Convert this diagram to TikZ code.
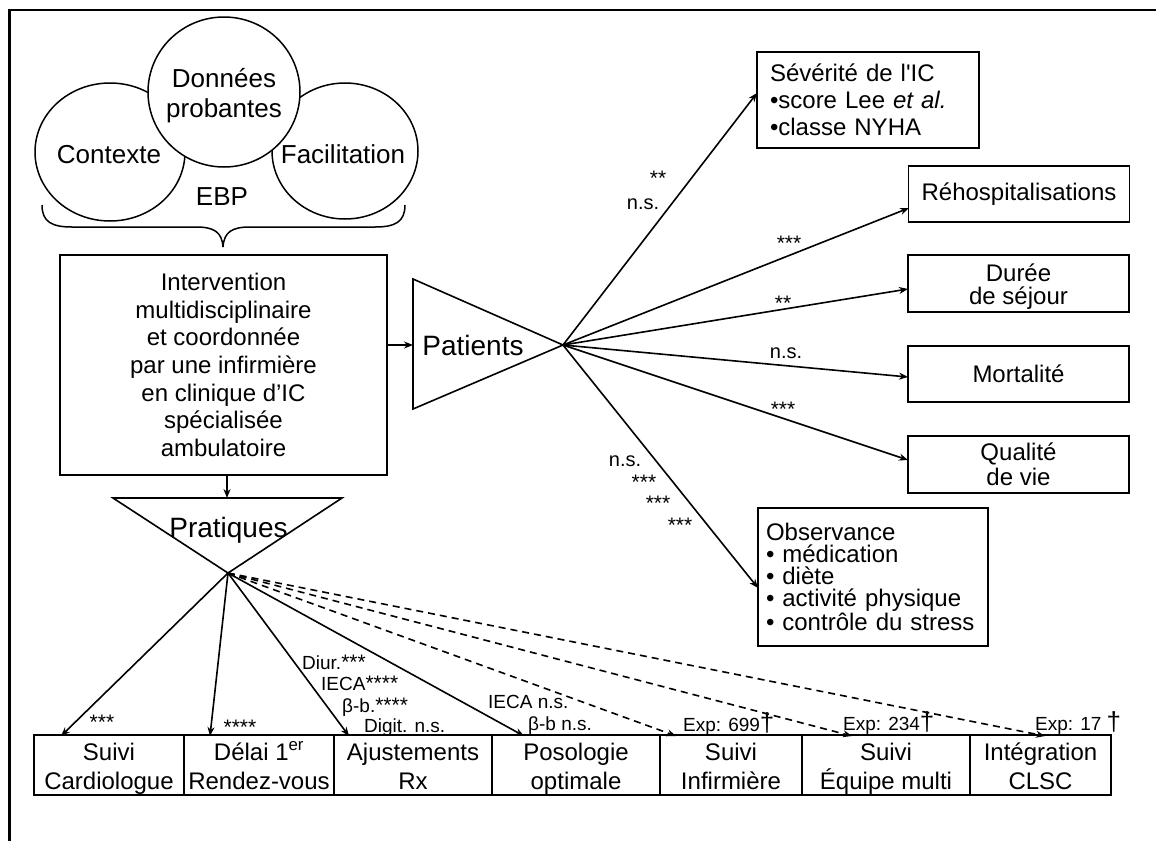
\documentclass[tikz,border=0pt]{standalone}
\usepackage{fontspec}
\setmainfont{Liberation Sans}
\usetikzlibrary{arrows.meta,shapes.geometric}
% significance stars and the dagger mark
\newcommand\signif[1]{{\fontsize{21}{21}\selectfont #1}}
\newcommand\dg{{\fontsize{26}{26}\selectfont †}}
% two lines with fixed first-line height and last-line depth
\newcommand\twolines[4]{\rule{0pt}{#3}#1\\#2\rule[-#4]{0pt}{#4}}
\begin{document}
\begin{tikzpicture}[x=1pt,y=-1pt,
  box/.style={draw,line width=1.8pt,inner sep=0pt,align=center,font=\fontsize{24}{27}\selectfont},
  bot/.style={box,minimum height=58pt,font=\fontsize{24}{29}\selectfont},
  outc/.style={box,minimum width=221pt},
  bubble/.style={ellipse,draw,line width=1.5pt,fill=white,inner sep=0pt},
  btext/.style={inner sep=0pt,align=center,font=\fontsize{26}{30}\selectfont},
  tri/.style={line width=1.6pt,line join=miter},
  big/.style={inner sep=0pt,anchor=base,font=\fontsize{28}{30}\selectfont},
  lbl/.style={inner sep=0pt,anchor=base,font=\fontsize{20}{22}\selectfont},
  lblw/.style={lbl,anchor=base west,font=\fontsize{19}{21}\selectfont},
  link/.style={line width=1.6pt,-{Stealth[length=9pt,width=7pt]}},
  dlink/.style={link,dash pattern=on 7pt off 5pt},
]
\useasboundingbox (0,0) rectangle (1156,841);
\fill[white] (0,0) rectangle (1156,841);
% page frame: top and left rules
\draw[line width=2.4pt] (9.5,841) -- (9.5,10) -- (1156,10);

% EBP model: three overlapping circles
\node[bubble,minimum width=150pt,minimum height=138pt] (ctx) at (110,152) {};
\node[bubble,minimum width=146pt,minimum height=136pt] (fac) at (345,151) {};
\node[bubble,minimum width=152pt,minimum height=150pt] (don) at (224,92) {};
\node[btext] (ctxT) at (109,155) {Contexte};
\node[btext] (facT) at (343,154) {Facilitation};
\node[btext] (donT) at (224,96) {Données\\probantes};
\node[btext] (ebp) at (222,197) {EBP};

% brace gathering the model
\draw[line width=1.5pt] (42,205) .. controls (42,222) and (52,227) .. (72,227) -- (196,227)
  .. controls (214,227) and (222,232) .. (223,247)
  .. controls (224,232) and (232,227) .. (250,227) -- (375,227)
  .. controls (395,227) and (405,222) .. (405,205);

% intervention
\node[box,minimum width=327pt,minimum height=220pt,font=\fontsize{24}{27.7}\selectfont] (interv) at (223.5,365)
  {Intervention\\multidisciplinaire\\et coordonnée\\par une infirmière\\en clinique d’IC\\spécialisée\\ambulatoire};

% patients funnel
\draw[tri] (413,279) -- (413,409) -- (563,345) -- cycle;
\coordinate (pa) at (563,345);
\coordinate (paL) at (413,345);
\node[big] (pat) at (473,355) {Patients};
\draw[link] (interv.east |- paL) -- (paL);

% practices funnel
\draw[tri] (113,498) -- (342,498) -- (228,573) -- cycle;
\coordinate (pr) at (228,573);
\coordinate (prT) at (227,498);
\node[big] (prat) at (228.5,537) {Pratiques};
\draw[link] (interv.south -| prT) -- (prT);

% patient outcomes
\node[box,minimum width=222pt,minimum height=96pt,text width=196pt,align=left] (sev) at (868,100)
  {Sévérité de l\textquotesingle IC\\•score Lee \textit{et al.}\\•classe NYHA};
\node[outc,minimum height=56pt] (reh) at (1019,194) {Réhospitalisations};
\node[outc,minimum height=57pt,font=\fontsize{24}{23}\selectfont] (dur) at (1018.5,283.5) {\twolines{Durée}{de séjour}{25pt}{6pt}};
\node[outc,minimum height=56pt] (mor) at (1018.5,374) {Mortalité};
\node[outc,minimum height=57pt,font=\fontsize{24}{25}\selectfont] (qua) at (1018.5,464.5) {\twolines{Qualité}{de vie}{22pt}{6pt}};
\node[box,minimum width=230pt,minimum height=138pt,text width=214pt,align=left,font=\fontsize{24}{22}\selectfont] (obs) at (873,577)
  {Observance\\• médication\\• diète\\• activité physique\\• contrôle du stress};

\coordinate (eSev) at (757,93);
\coordinate (eReh) at (909,208);
\coordinate (eDur) at (908,289);
\coordinate (eMor) at (908,377);
\coordinate (eQua) at (908,460);
\coordinate (eObs) at (758,588);
\draw[link] (pa) -- (eSev);
\draw[link] (pa) -- (eReh);
\draw[link] (pa) -- (eDur);
\draw[link] (pa) -- (eMor);
\draw[link] (pa) -- (eQua);
\draw[link] (pa) -- (eObs);

\node[lbl] (k1) at (658,185) {\signif{**}};
\node[lbl] (k2) at (643,209) {n.s.};
\node[lbl] (k3) at (789,250) {\signif{***}};
\node[lbl] (k4) at (783,310) {\signif{**}};
\node[lbl] (k5) at (786,358) {n.s.};
\node[lbl] (k6) at (783,416) {\signif{***}};
\node[lbl] (k7) at (625,466) {n.s.};
\node[lbl] (k8) at (644,489) {\signif{***}};
\node[lbl] (k9) at (658,510) {\signif{***}};
\node[lbl] (k10) at (680,532) {\signif{***}};

% practice indicators
\node[bot,minimum width=150pt] (card) at (109,765) {\twolines{Suivi}{Cardiologue}{25pt}{6pt}};
\node[bot,minimum width=150pt] (delai) at (259,765) {\twolines{Délai 1\textsuperscript{er}}{Rendez-vous}{25pt}{6pt}};
\node[bot,minimum width=158pt] (ajust) at (413,765) {\twolines{Ajustements}{Rx}{25pt}{6pt}};
\node[bot,minimum width=168pt] (poso) at (576,765) {\twolines{Posologie}{optimale}{25pt}{6pt}};
\node[bot,minimum width=142pt] (sinf) at (731,765) {\twolines{Suivi}{Infirmière}{25pt}{6pt}};
\node[bot,minimum width=168pt] (sequ) at (886,765) {\twolines{Suivi}{Équipe multi}{25pt}{6pt}};
\node[bot,minimum width=141pt] (integ) at (1040.5,765) {\twolines{Intégration}{CLSC}{25pt}{6pt}};

\coordinate (eCard) at (61,736);
\coordinate (eDel) at (210,736);
\coordinate (eAju) at (349,736);
\coordinate (ePos) at (524,736);
\coordinate (eInf) at (676,736);
\coordinate (eEqu) at (852,736);
\coordinate (eInt) at (1045,736);
\draw[link] (pr) -- (eCard);
\draw[link] (pr) -- (eDel);
\draw[link] (pr) -- (eAju);
\draw[link] (pr) -- (ePos);
\draw[dlink] (pr) -- (eInf);
\draw[dlink] (pr) -- (eEqu);
\draw[dlink] (pr) -- (eInt);

\node[lbl] (b1) at (102,729) {\signif{***}};
\node[lbl] (b2) at (240,734) {\signif{****}};
\node[lblw] (b3) at (302,669) {Diur.\signif{***}};
\node[lblw] (b4) at (321,690) {IECA\signif{****}};
\node[lblw] (b5) at (342,712) {β-b.\signif{****}};
\node[lblw] (b6) at (364,732) {Digit. n.s.};
\node[lblw] (b7) at (488,708) {IECA n.s.};
\node[lblw] (b8) at (528,730) {β-b n.s.};
\node[lblw] (b9) at (683,731) {Exp: 699\dg};
\node[lblw] (b10) at (843,730) {Exp: 234\dg};
\node[lblw] (b11) at (1035,730) {Exp: 17 \dg};
\end{tikzpicture}
\end{document}
